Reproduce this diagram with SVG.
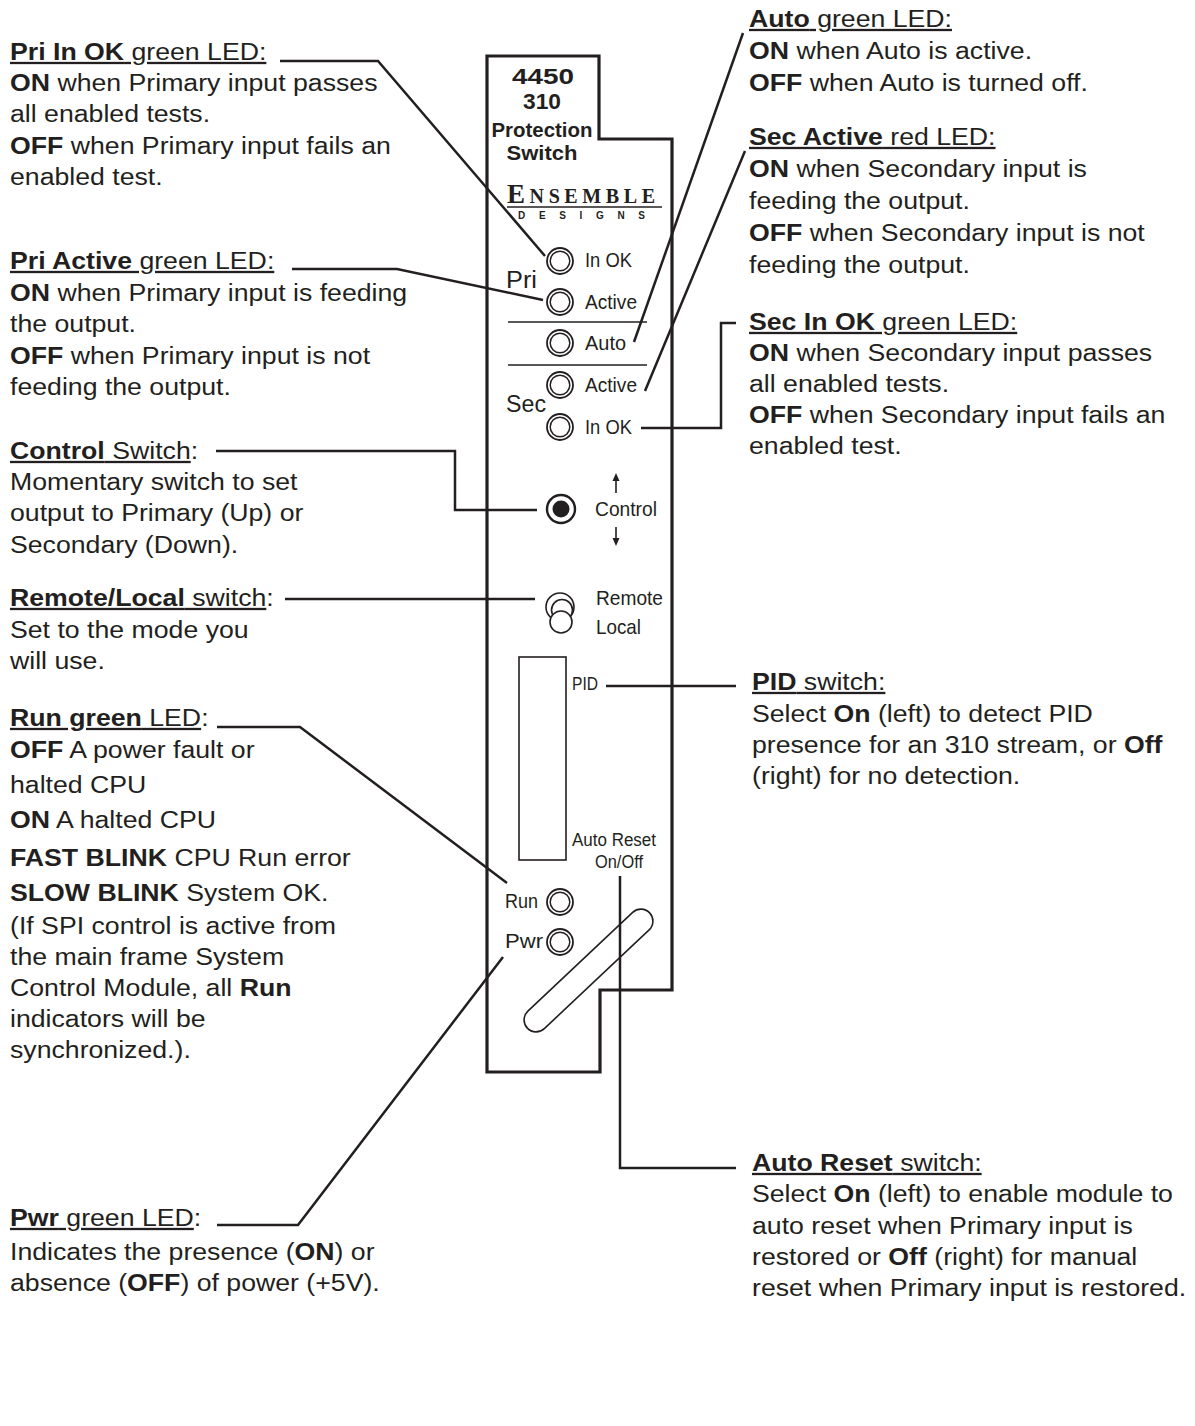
<svg xmlns="http://www.w3.org/2000/svg" width="1195" height="1426" viewBox="0 0 1195 1426">
<style>
.n{font-family:"Liberation Sans",Arial,Helvetica,sans-serif;font-size:23px;fill:#231f20}
.b{font-weight:bold}
.u{text-decoration:underline}
.p{font-family:"Liberation Sans",Arial,Helvetica,sans-serif;font-size:21px;fill:#231f20}
.ps{font-family:"Liberation Sans",Arial,Helvetica,sans-serif;font-size:18px;fill:#231f20}
.t{font-family:"Liberation Sans",Arial,Helvetica,sans-serif;font-weight:bold;fill:#231f20;text-anchor:middle}
.ld{fill:none;stroke:#231f20;stroke-width:2.5}
.ol{fill:none;stroke:#231f20;stroke-width:3.2}
.thin{fill:none;stroke:#231f20;stroke-width:1.6}
.ring{fill:#fff;stroke:#231f20;stroke-width:1.6}
</style>
<defs>
<g id="led"><circle r="13" fill="#fff" stroke="#231f20" stroke-width="1.8"/><circle r="9.8" fill="none" stroke="#231f20" stroke-width="1.5"/></g>
</defs>
<rect width="1195" height="1426" fill="#fff"/>

<g id="panel">
<path class="ol" d="M487,56 H599 V139 H672 V990 H600 V1072 H487 Z"/>
<text class="t" x="543" y="84" font-size="22" textLength="62" lengthAdjust="spacingAndGlyphs">4450</text>
<text class="t" x="542" y="109" font-size="22" textLength="38" lengthAdjust="spacingAndGlyphs">310</text>
<text class="t" x="542" y="137" font-size="20" textLength="101" lengthAdjust="spacingAndGlyphs">Protection</text>
<text class="t" x="542" y="160" font-size="21" textLength="71" lengthAdjust="spacingAndGlyphs">Switch</text>
<text x="507" y="203" font-family="'Liberation Serif','Times New Roman',serif" font-weight="bold" fill="#231f20" textLength="148" lengthAdjust="spacing"><tspan font-size="27">E</tspan><tspan font-size="20">NSEMBLE</tspan></text>
<line class="thin" x1="507" y1="207" x2="662" y2="207"/>
<text x="518" y="218.5" font-family="'Liberation Sans',Arial,sans-serif" font-weight="bold" font-size="10" fill="#231f20" textLength="127" lengthAdjust="spacing">DESIGNS</text>
<text class="n" x="506" y="288" font-size="24" textLength="31" lengthAdjust="spacingAndGlyphs">Pri</text>
<text class="n" x="506" y="412" font-size="24" textLength="40" lengthAdjust="spacingAndGlyphs">Sec</text>
<line class="thin" x1="508" y1="322" x2="647" y2="322"/>
<line class="thin" x1="508" y1="365" x2="647" y2="365"/>
<text class="ps" x="572" y="690" textLength="26" lengthAdjust="spacingAndGlyphs">PID</text>
<rect class="thin" x="519" y="657" width="47" height="203"/>
<text class="ps" x="572" y="846" textLength="84" lengthAdjust="spacingAndGlyphs">Auto Reset</text>
<text class="ps" x="595" y="868" textLength="48" lengthAdjust="spacingAndGlyphs">On/Off</text>
<rect class="thin" x="-84" y="-12" width="168" height="24" rx="12" transform="translate(588.5,970.5) rotate(-43.3)"/>
</g>

<g id="led-pri-inok"><use href="#led" x="560" y="261"/><text class="p" x="585" y="267" textLength="47" lengthAdjust="spacingAndGlyphs">In OK</text></g>
<g id="led-pri-active"><use href="#led" x="560" y="302"/><text class="p" x="585" y="309" textLength="52" lengthAdjust="spacingAndGlyphs">Active</text></g>
<g id="led-auto"><use href="#led" x="560" y="343"/><text class="p" x="585" y="350" textLength="41" lengthAdjust="spacingAndGlyphs">Auto</text></g>
<g id="led-sec-active"><use href="#led" x="560" y="385"/><text class="p" x="585" y="392" textLength="52" lengthAdjust="spacingAndGlyphs">Active</text></g>
<g id="led-sec-inok"><use href="#led" x="560" y="427"/><text class="p" x="585" y="434" textLength="47" lengthAdjust="spacingAndGlyphs">In OK</text></g>
<g id="control-switch">
<circle cx="561" cy="509" r="14" fill="#fff" stroke="#231f20" stroke-width="2.4"/>
<circle cx="561" cy="509" r="8.5" fill="#231f20"/>
<text class="p" x="595" y="516" textLength="62" lengthAdjust="spacingAndGlyphs">Control</text>
<line class="thin" x1="616" y1="493" x2="616" y2="479"/>
<polygon points="616,473 612.5,481 619.5,481" fill="#231f20"/>
<line class="thin" x1="616" y1="527" x2="616" y2="540"/>
<polygon points="616,546 612.5,538 619.5,538" fill="#231f20"/>
</g>
<g id="remote-local-switch">
<circle class="ring" cx="560" cy="607" r="14"/>
<circle class="ring" cx="562" cy="610" r="10.5"/>
<circle class="ring" cx="561" cy="622" r="11"/>
<text class="p" x="596" y="605" textLength="67" lengthAdjust="spacingAndGlyphs">Remote</text>
<text class="p" x="596" y="634" textLength="45" lengthAdjust="spacingAndGlyphs">Local</text>
</g>
<g id="led-run"><use href="#led" x="560" y="902"/><text class="p" x="505" y="908" textLength="33" lengthAdjust="spacingAndGlyphs">Run</text></g>
<g id="led-pwr"><use href="#led" x="560" y="942"/><text class="p" x="505" y="948" textLength="38" lengthAdjust="spacingAndGlyphs">Pwr</text></g>

<g id="connectors">
<path class="ld" d="M280,61 H378 L545,256"/>
<path class="ld" d="M292,269 H397 L543,300"/>
<path class="ld" d="M216,451 H455 V510 H537"/>
<path class="ld" d="M285,599 H535"/>
<path class="ld" d="M217,727 H300 L507,883"/>
<path class="ld" d="M217,1225 H298 L503,957"/>
<path class="ld" d="M743,33 L634,342"/>
<path class="ld" d="M745,151 L645,391"/>
<path class="ld" d="M641,428 H721 V323 H736"/>
<path class="ld" d="M606,686 H736"/>
<path class="ld" d="M620,876 V1168 H736"/>
</g>

<g id="note-pri-inok" transform="translate(10 0) scale(1.16 1)">
<text class="n u" y="60"><tspan class="b">Pri In OK</tspan> green LED:</text>
<text class="n" y="91"><tspan class="b">ON</tspan> when Primary input passes</text>
<text class="n" y="122">all enabled tests.</text>
<text class="n" y="154"><tspan class="b">OFF</tspan> when Primary input fails an</text>
<text class="n" y="185">enabled test.</text>
</g>
<g id="note-pri-active" transform="translate(10 0) scale(1.16 1)">
<text class="n u" y="269"><tspan class="b">Pri Active</tspan> green LED:</text>
<text class="n" y="301"><tspan class="b">ON</tspan> when Primary input is feeding</text>
<text class="n" y="332">the output.</text>
<text class="n" y="364"><tspan class="b">OFF</tspan> when Primary input is not</text>
<text class="n" y="395">feeding the output.</text>
</g>
<g id="note-control" transform="translate(10 0) scale(1.16 1)">
<text class="n" y="459"><tspan class="u"><tspan class="b">Control</tspan> Switch</tspan>:</text>
<text class="n" y="490">Momentary switch to set</text>
<text class="n" y="521">output to Primary (Up) or</text>
<text class="n" y="553">Secondary (Down).</text>
</g>
<g id="note-remote" transform="translate(10 0) scale(1.16 1)">
<text class="n" y="606"><tspan class="u"><tspan class="b">Remote/Local</tspan> switch</tspan>:</text>
<text class="n" y="638">Set to the mode you</text>
<text class="n" y="669">will use.</text>
</g>
<g id="note-run" transform="translate(10 0) scale(1.16 1)">
<text class="n" y="726"><tspan class="u"><tspan class="b">Run green</tspan> LED</tspan>:</text>
<text class="n" y="758"><tspan class="b">OFF</tspan> A power fault or</text>
<text class="n" y="793">halted CPU</text>
<text class="n" y="828"><tspan class="b">ON</tspan> A halted CPU</text>
<text class="n" y="866"><tspan class="b">FAST BLINK</tspan> CPU Run error</text>
<text class="n" y="901"><tspan class="b">SLOW BLINK</tspan> System OK.</text>
<text class="n" y="934">(If SPI control is active from</text>
<text class="n" y="965">the main frame System</text>
<text class="n" y="996">Control Module, all <tspan class="b">Run</tspan></text>
<text class="n" y="1027">indicators will be</text>
<text class="n" y="1058">synchronized.).</text>
</g>
<g id="note-pwr" transform="translate(10 0) scale(1.16 1)">
<text class="n" y="1226"><tspan class="u"><tspan class="b">Pwr</tspan> green LED</tspan>:</text>
<text class="n" y="1260">Indicates the presence (<tspan class="b">ON</tspan>) or</text>
<text class="n" y="1291">absence (<tspan class="b">OFF</tspan>) of power (+5V).</text>
</g>
<g id="note-auto" transform="translate(749 0) scale(1.16 1)">
<text class="n u" y="27"><tspan class="b">Auto</tspan> green LED:</text>
<text class="n" y="59"><tspan class="b">ON</tspan> when Auto is active.</text>
<text class="n" y="91"><tspan class="b">OFF</tspan> when Auto is turned off.</text>
</g>
<g id="note-sec-active" transform="translate(749 0) scale(1.16 1)">
<text class="n u" y="145"><tspan class="b">Sec Active</tspan> red LED:</text>
<text class="n" y="177"><tspan class="b">ON</tspan> when Secondary input is</text>
<text class="n" y="209">feeding the output.</text>
<text class="n" y="241"><tspan class="b">OFF</tspan> when Secondary input is not</text>
<text class="n" y="273">feeding the output.</text>
</g>
<g id="note-sec-inok" transform="translate(749 0) scale(1.16 1)">
<text class="n u" y="330"><tspan class="b">Sec In OK</tspan> green LED:</text>
<text class="n" y="361"><tspan class="b">ON</tspan> when Secondary input passes</text>
<text class="n" y="392">all enabled tests.</text>
<text class="n" y="423"><tspan class="b">OFF</tspan> when Secondary input fails an</text>
<text class="n" y="454">enabled test.</text>
</g>
<g id="note-pid" transform="translate(752 0) scale(1.16 1)">
<text class="n u" y="690"><tspan class="b">PID</tspan> switch:</text>
<text class="n" y="722">Select <tspan class="b">On</tspan> (left) to detect PID</text>
<text class="n" y="753">presence for an 310 stream, or <tspan class="b">Off</tspan></text>
<text class="n" y="784">(right) for no detection.</text>
</g>
<g id="note-auto-reset" transform="translate(752 0) scale(1.16 1)">
<text class="n u" y="1171"><tspan class="b">Auto Reset</tspan> switch:</text>
<text class="n" y="1202">Select <tspan class="b">On</tspan> (left) to enable module to</text>
<text class="n" y="1234">auto reset when Primary input is</text>
<text class="n" y="1265">restored or <tspan class="b">Off</tspan> (right) for manual</text>
<text class="n" y="1296">reset when Primary input is restored.</text>
</g>
</svg>
